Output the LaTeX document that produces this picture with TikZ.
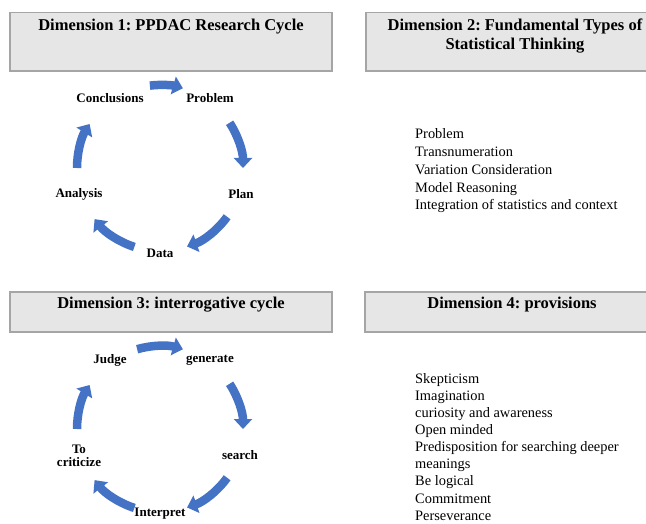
\documentclass[tikz,border=0pt]{standalone}
\usepackage{fontspec}
\setmainfont{Liberation Serif}
\frenchspacing
\usetikzlibrary{arrows.meta,positioning}
\definecolor{cycleblue}{HTML}{4472C4}
\definecolor{boxgray}{HTML}{E7E6E6}
\definecolor{boxborder}{HTML}{A5A5A5}
\tikzset{
  dimension box/.style={draw=boxborder,fill=boxgray,line width=1.8pt,outer sep=0pt,inner sep=0pt},
  box title/.style={font=\fontsize{16.5}{19}\selectfont\bfseries,align=center,inner sep=0pt},
  cycle label/.style={font=\fontsize{13}{13.5}\selectfont\bfseries,align=center,inner sep=0pt},
  cycle arrow/.style={draw=cycleblue,line width=8.5pt,-{Triangle[width=18pt,length=10pt]}},
  list item/.style={font=\fontsize{14.4}{17.5}\selectfont,anchor=base west,inner sep=0pt}
}

\begin{document}
\begin{tikzpicture}[x=1pt,y=1pt]
\clip (0,0) rectangle (646,-524);
% dimension headers
\node[dimension box,minimum width=322pt,minimum height=58.5pt] (dim1) at (171,-41.75) {};
\node[dimension box,minimum width=298pt,minimum height=58.5pt] (dim2) at (515,-41.75) {};
\node[dimension box,minimum width=322pt,minimum height=40pt] (dim3) at (171,-312) {};
\node[dimension box,minimum width=294pt,minimum height=40pt] (dim4) at (512,-312) {};
\node[box title,below=6.5pt of dim1.north] (title1) {Dimension 1: PPDAC Research Cycle};
\node[box title,below=6.5pt of dim2.north] (title2) {Dimension 2: Fundamental Types of\\Statistical Thinking};
\node[box title,below=5pt of dim3.north] (title3) {Dimension 3: interrogative cycle};
\node[box title,below=5pt of dim4.north] (title4) {Dimension 4: provisions};

% PPDAC cycle
\coordinate (c1) at (160,-168);
\node[cycle label] (problem) at (210,-98) {Problem};
\node[cycle label] (plan) at (241,-194) {Plan};
\node[cycle label] (data) at (160,-253) {Data};
\node[cycle label] (analysis) at (79,-194) {Analysis};
\node[cycle label] (conclusions) at (110,-98) {Conclusions};
\foreach \s/\e in {97/74,33/0,324/289,252/218,180/148}
  \draw[cycle arrow] (c1) ++(\s:83) arc[start angle=\s,end angle=\e,radius=83];

% interrogative cycle
\coordinate (c3) at (160,-429);
\node[cycle label] (generate) at (210,-360) {generate};
\node[cycle label] (search) at (240,-455) {search};
\node[cycle label] (interpret) at (160,-514) {Interpret};
\node[cycle label] (criticize) at (79,-456) {To\\criticize};
\node[cycle label] (judge) at (110,-360) {Judge};
\foreach \s/\e in {106/74,33/0,324/289,252/218,180/148}
  \draw[cycle arrow] (c3) ++(\s:83) arc[start angle=\s,end angle=\e,radius=83];

% types of thinking
\foreach \t [count=\i from 0] in {Problem,Transnumeration,Variation Consideration,Model Reasoning,Integration of statistics and context}
  \node[list item] (type\i) at (415,-138.8-17.75*\i) {\t};

% provisions
\foreach \t [count=\i from 0] in {Skepticism,Imagination,curiosity and awareness,Open minded,Predisposition for searching deeper,meanings,Be logical,Commitment,Perseverance}
  \node[list item] (prov\i) at (415,-383.3-17.1*\i) {\t};
\end{tikzpicture}
\end{document}
